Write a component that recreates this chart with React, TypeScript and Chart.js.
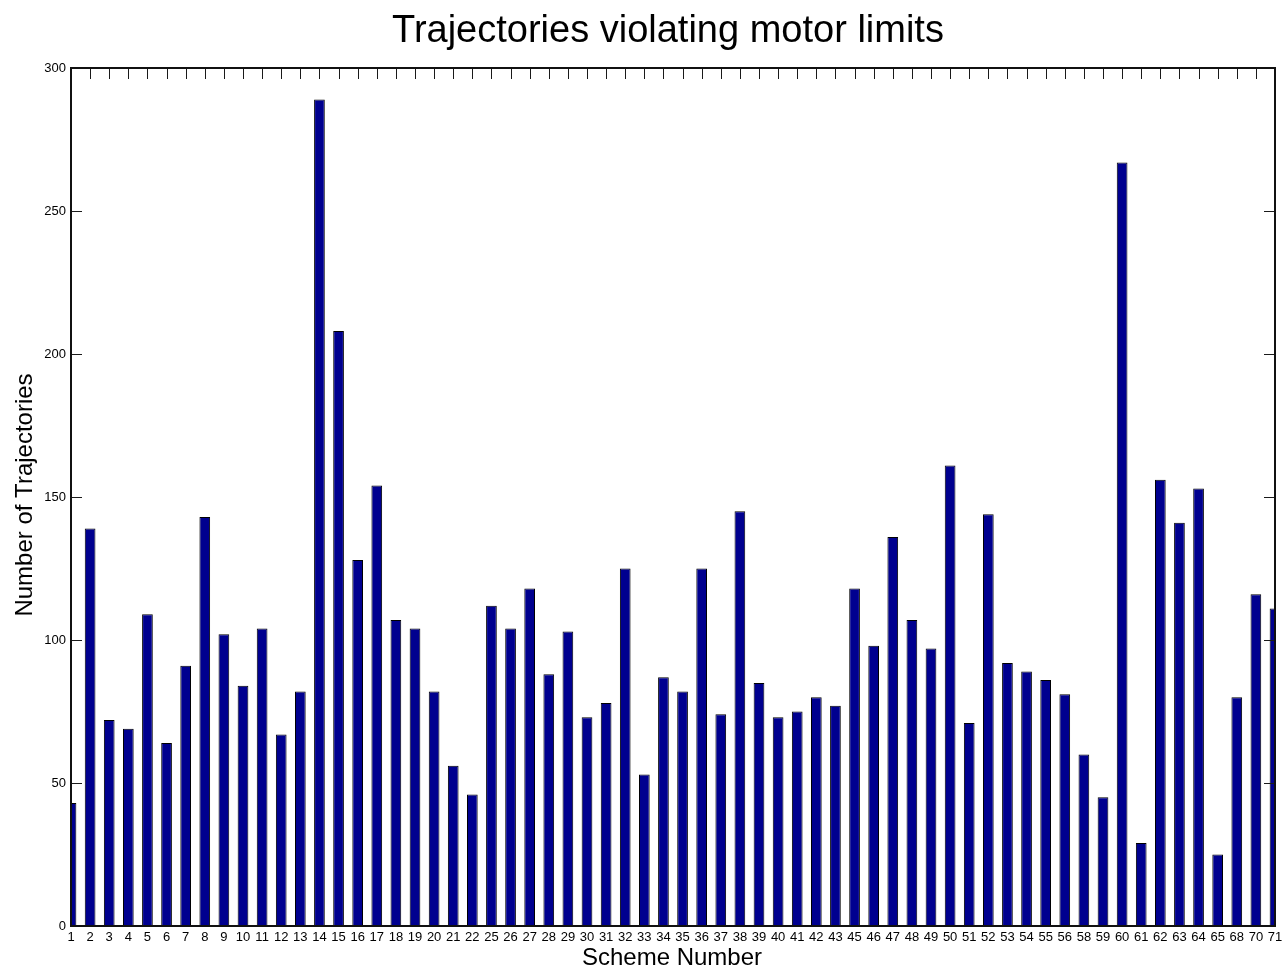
import React, { useEffect, useRef } from "react";
import { Chart, registerables } from "chart.js";

Chart.register(...registerables);

const chartTitle = "Trajectories violating motor limits";
const xAxisTitle = "Scheme Number";
const yAxisTitle = "Number of Trajectories";

const schemeNumbers = [
  "1", "2", "3", "4", "5", "6", "7", "8", "9", "10", "11", "12", "13", "14", "15", "16", "17", "18", "19", "20", "21", "22",
  "25", "26", "27", "28", "29", "30", "31", "32", "33", "34", "35", "36", "37", "38", "39", "40", "41", "42", "43",
  "45", "46", "47", "48", "49", "50", "51", "52", "53", "54", "55", "56",
  "58", "59", "60", "61", "62", "63", "64", "65",
  "68", "70", "71",
];

const trajectoryCounts = [
  43, 139, 72, 69, 109, 64, 91, 143, 102, 84, 104, 67, 82, 289, 208, 128, 154, 107, 104, 82, 56, 46,
  112, 104, 118, 88, 103, 73, 78, 125, 53, 87, 82, 125, 74, 145, 85, 73, 75, 80, 77,
  118, 98, 136, 107, 97, 161, 71, 144, 92, 89, 86, 81,
  60, 45, 267, 29, 156, 141, 153, 25,
  80, 116, 111,
];

const yMin = 0;
const yMax = 300;
const yStep = 50;

const FONT = '"Liberation Sans", Arial, Helvetica, sans-serif';

const framePlugin = {
  id: "matlabFrame",
  afterDraw(chart: any) {
    const { ctx, chartArea: a, scales } = chart;
    const xs = scales.x;
    const ys = scales.y;
    ctx.save();
    // inward tick marks
    ctx.strokeStyle = "#1a1a1a";
    ctx.lineWidth = 1;
    ctx.beginPath();
    ys.ticks.forEach((_t: any, i: number) => {
      const py = Math.round(ys.getPixelForTick(i)) + 0.5;
      ctx.moveTo(a.left, py);
      ctx.lineTo(a.left + 11, py);
      ctx.moveTo(a.right, py);
      ctx.lineTo(a.right - 11, py);
    });
    xs.ticks.forEach((_t: any, i: number) => {
      const px = Math.round(xs.getPixelForTick(i)) + 0.5;
      ctx.moveTo(px, a.top);
      ctx.lineTo(px, a.top + 11);
    });
    ctx.stroke();
    // box
    ctx.strokeStyle = "#111";
    ctx.lineWidth = 2;
    ctx.strokeRect(a.left, a.top, a.right - a.left, a.bottom - a.top);

    // titles
    ctx.fillStyle = "#000";
    ctx.textAlign = "center";
    ctx.textBaseline = "alphabetic";
    ctx.font = `38px ${FONT}`;
    ctx.fillText(chartTitle, 668, 42);

    ctx.font = `24px ${FONT}`;
    ctx.fillText(xAxisTitle, 672, 965);

    ctx.save();
    ctx.translate(32, 495);
    ctx.rotate(-Math.PI / 2);
    ctx.font = `24px ${FONT}`;
    ctx.fillText(yAxisTitle, 0, 0);
    ctx.restore();

    ctx.restore();
  },
};

export default function App() {
  const canvasRef = useRef<HTMLCanvasElement | null>(null);

  useEffect(() => {
    document.body.style.margin = "0";
    const canvas = canvasRef.current;
    if (!canvas) return;
    const chart = new Chart(canvas, {
      type: "bar",
      data: {
        labels: schemeNumbers,
        datasets: [
          {
            data: trajectoryCounts,
            backgroundColor: "#00008f",
            borderColor: "#000000",
            borderWidth: 1,
            borderSkipped: false,
            barPercentage: 0.56,
            categoryPercentage: 1,
          },
        ],
      },
      options: {
        responsive: false,
        animation: false,
        devicePixelRatio: 1,
        layout: { padding: { left: 0, right: 7, top: 68, bottom: 0 } },
        plugins: {
          legend: { display: false },
          title: { display: false },
          tooltip: { enabled: false },
        },
        scales: {
          x: {
            type: "category",
            offset: false,
            grid: { display: false, drawTicks: false },
            border: { display: false },
            ticks: {
              autoSkip: false,
              maxRotation: 0,
              minRotation: 0,
              padding: 4,
              color: "#000",
              font: { family: FONT, size: 13 },
            },
            afterFit(s: any) {
              s.height = 43;
              s.paddingLeft = 0;
              s.paddingRight = 0;
            },
          },
          y: {
            min: yMin,
            max: yMax,
            grid: { display: false, drawTicks: false },
            border: { display: false },
            ticks: {
              stepSize: yStep,
              padding: 5,
              color: "#000",
              font: { family: FONT, size: 13 },
            },
            afterFit(s: any) {
              s.width = 71;
              s.paddingTop = 0;
              s.paddingBottom = 0;
            },
          },
        },
      },
      plugins: [framePlugin],
    });
    return () => chart.destroy();
  }, []);

  return (
    <div style={{ position: "absolute", left: 0, top: 0, width: 1282, height: 969, background: "#fff" }}>
      <canvas ref={canvasRef} width={1282} height={969} style={{ display: "block" }} />
    </div>
  );
}
